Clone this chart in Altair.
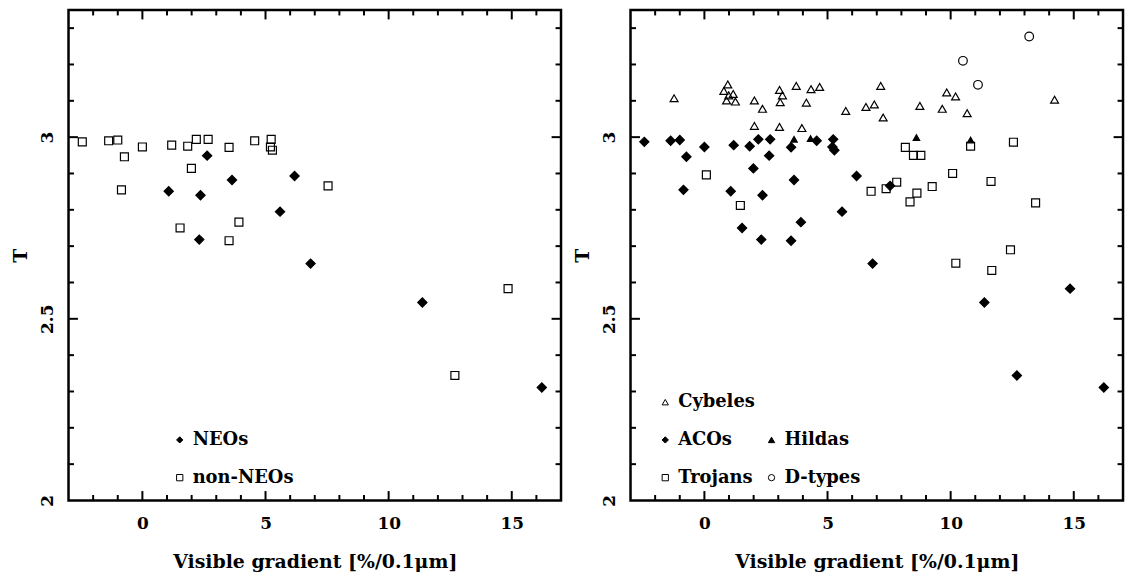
import altair as alt
import pandas as pd

# ---------------- data ----------------
neo_x = [2.63, 3.64, 1.07, 2.36, 6.18, 5.59, 2.31, 6.83, 11.37, 16.22]
neo_T = [2.949, 2.882, 2.851, 2.840, 2.893, 2.795, 2.718, 2.652, 2.545, 2.311]

non_x = [-2.44, -1.37, -1.00, -0.73, -0.85, 0.00, 1.19, 1.84, 2.19, 1.99, 2.67,
         1.53, 3.52, 3.52, 3.92, 4.56, 5.23, 5.20, 5.28, 7.54, 14.85, 12.69]
non_T = [2.987, 2.990, 2.992, 2.946, 2.855, 2.973, 2.978, 2.975, 2.994, 2.914, 2.994,
         2.750, 2.972, 2.715, 2.766, 2.990, 2.994, 2.973, 2.964, 2.866, 2.583, 2.344]

cyb_x = [-1.23, 0.95, 0.79, 1.17, 0.90, 1.26, 0.99, 2.03, 2.36, 2.03, 3.05, 3.17,
         3.08, 3.05, 3.73, 4.14, 3.96, 4.33, 4.68, 5.74, 6.56, 6.90, 7.16, 7.26,
         8.75, 9.66, 9.84, 10.20, 10.67, 14.22]
cyb_T = [3.107, 3.145, 3.127, 3.119, 3.101, 3.098, 3.115, 3.101, 3.078, 3.031, 3.130, 3.115,
         3.096, 3.028, 3.141, 3.095, 3.025, 3.132, 3.138, 3.072, 3.083, 3.090, 3.141, 3.054,
         3.086, 3.078, 3.123, 3.112, 3.066, 3.103]

hil_x = [3.64, 4.31, 8.61, 10.81]
hil_T = [2.994, 2.996, 2.999, 2.992]

tro_x = [0.08, 1.46, 6.77, 7.38, 7.81, 8.16, 8.49, 8.79, 8.35, 8.63, 9.25, 10.08,
         10.81, 11.64, 12.55, 13.45, 12.43, 10.21, 11.67]
tro_T = [2.896, 2.812, 2.851, 2.858, 2.876, 2.972, 2.950, 2.950, 2.822, 2.846, 2.864, 2.900,
         2.975, 2.878, 2.986, 2.819, 2.690, 2.653, 2.633]

dty_x = [10.50, 11.11, 13.19]
dty_T = [3.210, 3.144, 3.277]

x_major = [0, 5, 10, 15]
x_minor = [v for v in range(-2, 17) if v not in x_major]
y_major = [2.5, 3.0]
y_minor = [2.1, 2.2, 2.3, 2.4, 2.6, 2.7, 2.8, 2.9, 3.1, 3.2, 3.3]
y_labels = [2, 2.5, 3]

X_DOM = [-3, 17]
Y_DOM = [2, 3.35]
FONT = "DejaVu Serif"
W, H = 496, 494
MAJ, MIN = 9.5, 5.5


def frame(xs, ts, name):
    return pd.DataFrame({"x": xs, "T": ts, "group": [name] * len(xs)})


one_row = pd.DataFrame({"k": [0]})

xs = alt.Scale(domain=X_DOM, nice=False, zero=False)
ys = alt.Scale(domain=Y_DOM, nice=False, zero=False)

x_axis = alt.Axis(values=x_major, title="Visible gradient [%/0.1μm]", grid=False,
                  domain=False, ticks=False, tickSize=0, labelPadding=15,
                  labelBaseline="top", labelFlush=False, titleY=67,
                  titleBaseline="alphabetic")
y_axis = alt.Axis(values=y_labels, format="~g", title="T", grid=False, domain=False,
                  ticks=False, tickSize=0, labelAngle=270, labelAlign="center",
                  labelBaseline="middle", labelPadding=21, labelFlush=False,
                  labelOverlap=False, titleAngle=270, titleX=-48, titleY=H / 2,
                  titleAlign="center", titleBaseline="middle")


def tick_layers():
    layers = []
    # ticks on the bottom and top edges
    for vals, L in [(x_major, MAJ), (x_minor, MIN)]:
        for v in vals:
            for y0, y1 in [(H, H - L), (0, L)]:
                layers.append(alt.Chart(one_row).mark_rule(strokeWidth=2, color="black").encode(
                    x=alt.XDatum(float(v), scale=xs, axis=x_axis),
                    y=alt.value(y0), y2=alt.value(y1)))
    # ticks on the left and right edges
    for vals, L in [(y_major, MAJ), (y_minor, MIN)]:
        d = pd.DataFrame({"v": vals})
        for x0, x1 in [(0, L), (W, W - L)]:
            layers.append(alt.Chart(d).mark_rule(strokeWidth=2, color="black").encode(
                y=alt.Y("v:Q", scale=ys, axis=y_axis),
                y2=alt.Y2("v"),
                x=alt.value(x0), x2=alt.value(x1)))
    return layers


def panel(groups, dom, shapes, fills, strokes, legend):
    layers = []
    for df, size in groups:
        layers.append(
            alt.Chart(df).mark_point(filled=True, strokeWidth=1.2, opacity=1,
                                     size=size).encode(
                x=alt.X("x:Q", scale=xs, axis=x_axis),
                y=alt.Y("T:Q", scale=ys, axis=y_axis),
                shape=alt.Shape("group:N", scale=alt.Scale(domain=dom, range=shapes),
                                legend=legend),
                fill=alt.Fill("group:N", scale=alt.Scale(domain=dom, range=fills),
                              legend=legend),
                stroke=alt.Stroke("group:N", scale=alt.Scale(domain=dom, range=strokes),
                                  legend=legend),
            )
        )
    return alt.layer(*(tick_layers() + layers)).properties(width=W, height=H)


left_legend = alt.Legend(title=None, orient="none", legendX=103, legendY=424,
                         padding=0, rowPadding=20, labelOffset=4)
right_legend = alt.Legend(title=None, orient="none", legendX=26, legendY=386,
                          padding=0, rowPadding=20, labelOffset=4, columns=2,
                          columnPadding=7)

left = panel(
    [(frame(neo_x, neo_T, "NEOs"), 86), (frame(non_x, non_T, "non-NEOs"), 64)],
    ["NEOs", "non-NEOs"], ["diamond", "square"],
    ["black", "transparent"], ["black", "black"], left_legend)

right = panel(
    [(frame(tro_x, tro_T, "Trojans"), 64),
     (frame(neo_x + non_x, neo_T + non_T, "ACOs"), 86),
     (frame(cyb_x, cyb_T, "Cybeles"), 64),
     (frame(hil_x, hil_T, "Hildas"), 42),
     (frame(dty_x, dty_T, "D-types"), 76)],
    ["Cybeles", "ACOs", "Trojans", " ", "Hildas", "D-types"],
    ["triangle-up", "diamond", "square", "M0,0", "triangle-up", "circle"],
    ["transparent", "black", "transparent", "transparent", "black", "transparent"],
    ["black", "black", "black", "transparent", "black", "black"],
    right_legend)

chart = alt.hconcat(left, right, spacing=8).resolve_scale(
    shape="independent", fill="independent", stroke="independent"
).properties(
    padding={"left": 10, "top": 5, "right": 0, "bottom": 0}
).configure(
    background="white"
).configure_view(
    stroke="black", strokeWidth=2.5
).configure_axis(
    labelFont=FONT, labelFontSize=17, labelFontWeight="bold", labelColor="black",
    titleFont=FONT, titleFontSize=19, titleFontWeight="bold", titleColor="black",
).configure_legend(
    labelFont=FONT, labelFontSize=18, labelFontWeight="bold", labelColor="black",
    symbolSize=40, symbolStrokeWidth=1, labelLimit=300,
)

chart.save("out.html", embed_options={"renderer": "svg", "actions": False})
